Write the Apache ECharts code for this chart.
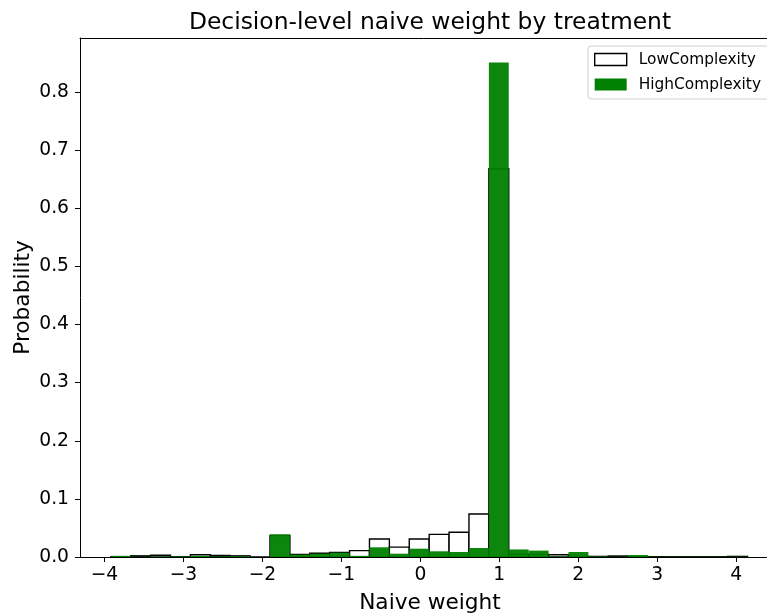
<!DOCTYPE html>
<html>
<head>
<meta charset="utf-8">
<script src="https://cdn.jsdelivr.net/npm/echarts@6/dist/echarts.min.js"></script>
<style>
  html, body { margin: 0; padding: 0; background: #fff; }
  #chart { width: 767px; height: 615px; }
</style>
</head>
<body>
<div id="chart"></div>
<script>
// bin edges (32 bins)
const binEdges = [-3.92, -3.668, -3.416, -3.164, -2.912, -2.66, -2.408, -2.156, -1.904,
  -1.652, -1.4, -1.148, -0.896, -0.644, -0.392, -0.14, 0.112, 0.364, 0.616, 0.868,
  1.12, 1.372, 1.624, 1.876, 2.128, 2.38, 2.632, 2.884, 3.136, 3.388, 3.64, 3.892, 4.144];

const lowProb = [0.0005, 0.002, 0.003, 0.0005, 0.004, 0.0025, 0.002, 0, 0.037,
  0.0045, 0.0065, 0.008, 0.011, 0.031, 0.017, 0.031, 0.039, 0.0425, 0.074, 0.668,
  0.005, 0.0045, 0.004, 0.001, 0.001, 0.0017, 0.0005, 0.0005, 0.0005, 0.0005, 0.0005, 0.001];

const highProb = [0.002, 0.0005, 0.001, 0.001, 0.002, 0.001, 0.0015, 0, 0.039,
  0.004, 0.0057, 0.0075, 0.002, 0.0167, 0.0057, 0.0143, 0.0098, 0.0086, 0.0155, 0.851,
  0.013, 0.011, 0.001, 0.0086, 0.001, 0.0005, 0.0034, 0.0005, 0.0005, 0.0005, 0.0005, 0.0005];

const xTicks = [-4, -3, -2, -1, 0, 1, 2, 3, 4];
const yTicks = [0, 0.1, 0.2, 0.3, 0.4, 0.5, 0.6, 0.7, 0.8];

const FONT = "DejaVu Sans";
const X_MIN = -4.31, X_MAX = 4.555; // right end is off the picture

function toBins(values) {
  return values.map((v, i) => [binEdges[i], binEdges[i + 1], v]);
}

function barRenderer(style) {
  return function (params, api) {
    const p0 = api.coord([api.value(0), api.value(2)]);
    const p1 = api.coord([api.value(1), 0]);
    return {
      type: "rect",
      shape: { x: p0[0], y: p0[1], width: p1[0] - p0[0], height: p1[1] - p0[1] },
      style: style,
    };
  };
}

const chart = echarts.init(document.getElementById("chart"));

const option = {
  animation: false,
  title: {
    text: "Decision-level naive weight by treatment",
    left: 425,
    textAlign: "center",
    top: 6,
    textStyle: { fontFamily: FONT, fontSize: 23.4, fontWeight: "normal", color: "#000" },
  },
  legend: {
    left: 588,
    top: 46,
    orient: "vertical",
    icon: "rect",
    itemWidth: 32,
    itemHeight: 12,
    itemGap: 10,
    padding: [6, 24, 7, 6],
    borderColor: "#d0d0d0",
    borderWidth: 1,
    borderRadius: 3,
    textStyle: { fontFamily: FONT, fontSize: 15.4, color: "#000", padding: [0, 0, 0, 7] },
    data: [
      { name: "LowComplexity", itemStyle: { color: "#fff", borderColor: "#000", borderWidth: 1.4 } },
      { name: "HighComplexity", itemStyle: { color: "#008000", borderWidth: 0 } },
    ],
  },
  grid: {
    left: 80,
    top: 38,
    width: 700,
    height: 519,
    outerBoundsMode: "none",
    containLabel: false,
  },
  xAxis: [
    {
      type: "value",
      min: X_MIN,
      max: X_MAX,
      name: "Naive weight",
      nameLocation: "middle",
      nameGap: 35,
      nameMoveOverlap: false,
      nameTextStyle: { fontFamily: FONT, fontSize: 21.7, color: "#000" },
      splitLine: { show: false },
      axisLine: { show: true, onZero: false, lineStyle: { color: "#000", width: 1 } },
      axisTick: { show: true, length: 5, customValues: xTicks, lineStyle: { color: "#000" } },
      axisLabel: {
        customValues: xTicks,
        fontFamily: FONT,
        fontSize: 18.7,
        color: "#000",
        margin: 9,
        formatter: (v) => (v < 0 ? "\u2212" + Math.abs(v) : String(v)),
      },
    },
    {
      // top spine
      type: "value",
      position: "top",
      min: X_MIN,
      max: X_MAX,
      splitLine: { show: false },
      axisLine: { show: true, onZero: false, lineStyle: { color: "#000", width: 1 } },
      axisTick: { show: false },
      axisLabel: { show: false },
    },
  ],
  yAxis: {
    type: "value",
    min: 0,
    max: 0.893,
    name: "Probability",
    nameLocation: "middle",
    nameGap: 46,
    nameMoveOverlap: false,
    nameTextStyle: { fontFamily: FONT, fontSize: 21.7, color: "#000" },
    splitLine: { show: false },
    axisLine: { show: true, onZero: false, lineStyle: { color: "#000", width: 1 } },
    axisTick: { show: true, length: 5, customValues: yTicks, lineStyle: { color: "#000" } },
    axisLabel: {
      customValues: yTicks,
      fontFamily: FONT,
      fontSize: 18.7,
      color: "#000",
      margin: 11,
      formatter: (v) => v.toFixed(1),
    },
  },
  series: [
    {
      name: "LowComplexity",
      type: "custom",
      renderItem: barRenderer({ fill: "#fff", stroke: "#000", lineWidth: 1.4 }),
      itemStyle: { color: "#fff", borderColor: "#000" },
      encode: { x: [0, 1], y: 2 },
      data: toBins(lowProb),
      z: 2,
    },
    {
      name: "HighComplexity",
      type: "custom",
      renderItem: barRenderer({ fill: "rgba(0,128,0,0.95)" }),
      itemStyle: { color: "#008000" },
      encode: { x: [0, 1], y: 2 },
      data: toBins(highProb),
      z: 3,
    },
  ],
};

chart.setOption(option);
</script>
</body>
</html>
